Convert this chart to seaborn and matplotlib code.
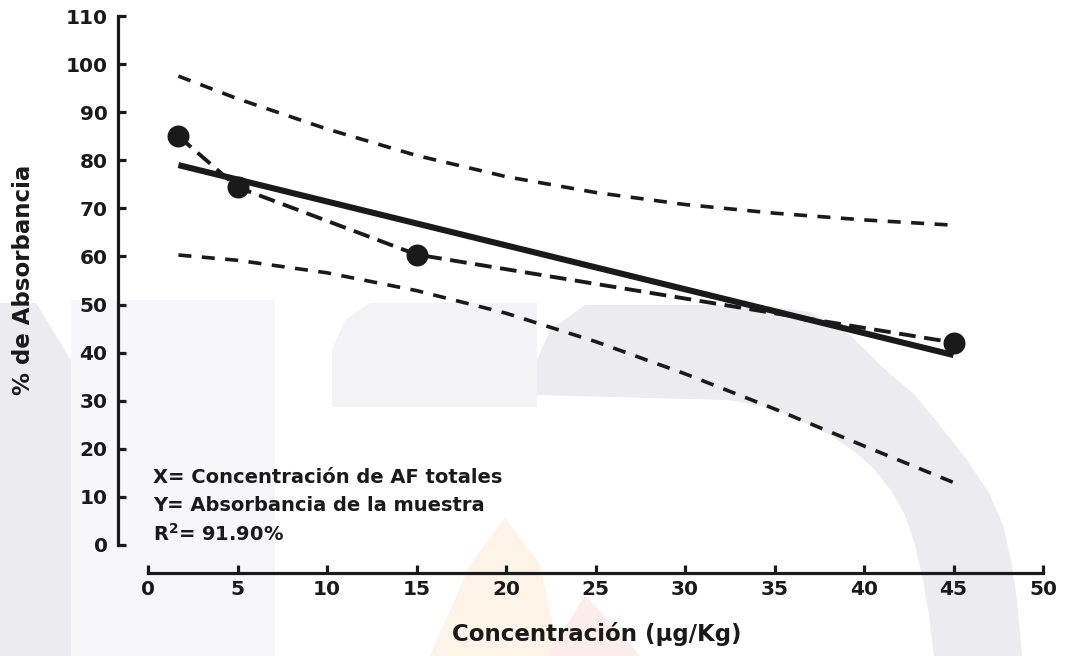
import matplotlib
matplotlib.use("Agg")
import matplotlib.pyplot as plt
import matplotlib.transforms as mtransforms
from matplotlib.patches import Polygon
import seaborn as sns

# ---------------- data ----------------
conc = [1.7, 5, 15, 45]                      # µg/Kg
absorb = [85.0, 74.4, 60.4, 42.1]            # % de Absorbancia
fit_x = [1.7, 45]
fit_y = [79.0, 39.5]
band_x = [1.7, 5, 10, 15, 20, 25, 30, 35, 40, 45]
band_upper = [97.5, 92.8, 86.5, 81.0, 76.6, 73.3, 70.8, 69.0, 67.6, 66.5]
band_lower = [60.3, 59.2, 56.6, 52.9, 48.2, 42.3, 35.6, 28.3, 20.6, 13.0]
x_ticks = [0, 5, 10, 15, 20, 25, 30, 35, 40, 45, 50]
y_ticks = [0, 10, 20, 30, 40, 50, 60, 70, 80, 90, 100, 110]
note_lines = ["X= Concentración de AF totales",
              "Y= Absorbancia de la muestra",
              r"R$^{\mathbf{2}}$= 91.90%"]
xlabel = "Concentración (μg/Kg)"
ylabel = "% de Absorbancia"

# ---------------- style ----------------
sns.set_theme(style="ticks")
plt.rcParams['font.family'] = ['DejaVu Sans']
plt.rcParams['font.weight'] = 'bold'
plt.rcParams['mathtext.default'] = 'bf'

INK = '#1a1a1a'
W, H = 1073, 656
fig = plt.figure(figsize=(W / 100, H / 100), dpi=100)
fig.patch.set_facecolor('white')

# faint watermark in the background (pixel coordinates, y measured from top)
ident = mtransforms.IdentityTransform()
def poly(points, color):
    p = Polygon([(x, H - y) for x, y in points], closed=True,
                facecolor=color, edgecolor='none')
    p.set_transform(ident)
    p.set_zorder(-5)
    fig.patches.append(p)

poly([(71, 300), (275, 300), (275, 656), (71, 656)], '#f7f7f9')
poly([(0, 303), (36, 303), (71, 360), (71, 656), (0, 656)], '#ebebf0')
poly([(332, 407), (332, 350), (345, 320), (370, 303), (537, 303), (537, 407)],
     '#f3f3f6')
outer = [(537, 656), (537, 360), (550, 330), (585, 305), (760, 305),
         (810, 312), (850, 335), (880, 365), (915, 395), (941, 427),
         (967, 460), (989, 493), (1003, 525), (1011, 560), (1017, 600),
         (1022, 656)]
inner = [(537, 395), (728, 400), (770, 408), (800, 420), (830, 435),
         (855, 452), (875, 470), (892, 492), (905, 515), (915, 545),
         (923, 580), (929, 615), (934, 656)]
poly(outer + inner[::-1], '#ebebf0')
poly([(430, 656), (470, 565), (505, 518), (540, 565), (560, 656)], '#fdf3e6')
poly([(548, 656), (585, 595), (640, 656)], '#fcecec')

ax = fig.add_axes([148 / W, 1 - 545 / H, (1043 - 148) / W, (545 - 16) / H])
ax.set_facecolor('none')

# confidence band (dashed)
band_ls = (0, (3.6, 2.9))
sns.lineplot(x=band_x, y=band_upper, ax=ax, color=INK, lw=2.6,
             linestyle=band_ls, sort=False, estimator=None)
sns.lineplot(x=band_x, y=band_lower, ax=ax, color=INK, lw=2.6,
             linestyle=band_ls, sort=False, estimator=None)
# regression line
sns.lineplot(x=fit_x, y=fit_y, ax=ax, color=INK, lw=4.4,
             sort=False, estimator=None, solid_capstyle='butt')
# observed points joined by dashes
sns.lineplot(x=conc, y=absorb, ax=ax, color=INK, lw=2.8,
             linestyle=(0, (4.3, 2.2)), sort=False, estimator=None)
sns.scatterplot(x=conc, y=absorb, ax=ax, color=INK, s=250,
                linewidth=0, zorder=5)

ax.set_xlim(0, 50)
ax.set_ylim(0, 110)
ax.set_xticks(x_ticks)
ax.set_yticks(y_ticks)
ax.set_xticklabels([str(v) for v in x_ticks])
ax.set_yticklabels([str(v) for v in y_ticks])

for s in ('top', 'right'):
    ax.spines[s].set_visible(False)
ax.spines['left'].set_position(('outward', 21.6))
ax.spines['bottom'].set_position(('outward', 20.5))
for s in ('left', 'bottom'):
    ax.spines[s].set_linewidth(2.3)
    ax.spines[s].set_color(INK)

ax.tick_params(axis='both', direction='in', length=6, width=2.3,
               color=INK, labelcolor=INK, labelsize=14.5)
ax.tick_params(axis='y', pad=7.5)
ax.tick_params(axis='x', pad=5)
for lab in ax.get_xticklabels() + ax.get_yticklabels():
    lab.set_fontweight('bold')

ax.set_xlabel(xlabel, fontsize=16.5, fontweight='bold', color=INK, va='center')
ax.set_ylabel(ylabel, fontsize=16.5, fontweight='bold', color=INK, va='center')
ax.xaxis.set_label_coords((597 - 148) / 895, (545 - 634) / 529)
ax.yaxis.set_label_coords((24 - 148) / 895, (545 - 280) / 529)

note_y = [14.0, 8.3, 2.3]
for txt, yy in zip(note_lines, note_y):
    ax.text(0.3, yy, txt, fontsize=14, fontweight='bold', color=INK,
            va='center', ha='left')

fig.savefig('out.png', dpi=100, facecolor='white')
